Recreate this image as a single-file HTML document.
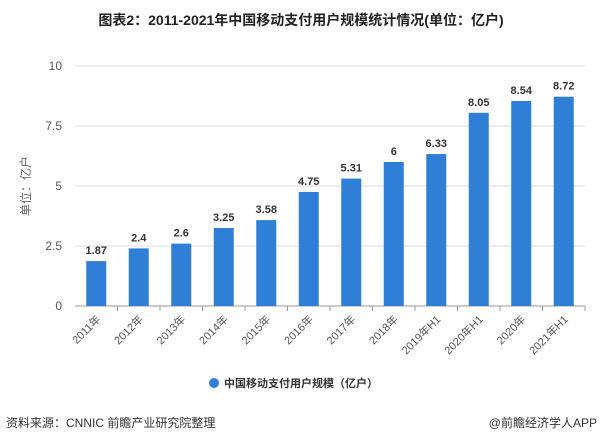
<!DOCTYPE html>
<html><head><meta charset="utf-8"><style>
body{margin:0;background:#fff;font-family:"Liberation Sans","Noto Sans CJK SC",sans-serif;}
#wrap{position:relative;width:602px;height:440px;overflow:hidden;}
</style></head><body>
<div id="wrap">
<svg id="chart" width="602" height="440"></svg>
</div>
<script>
const categories=["2011年","2012年","2013年","2014年","2015年","2016年","2017年","2018年","2019年H1","2020年H1","2020年","2021年H1"];
const values=[1.87,2.4,2.6,3.25,3.58,4.75,5.31,6,6.33,8.05,8.54,8.72];
const valueLabels=["1.87","2.4","2.6","3.25","3.58","4.75","5.31","6","6.33","8.05","8.54","8.72"];
const yTicks=[0,2.5,5,7.5,10];
const yTickLabels=["0","2.5","5","7.5","10"];

const NS="http://www.w3.org/2000/svg";
const svg=document.getElementById('chart');
const L=75,R=585,T=66,B=306,yMax=10;
const band=(R-L)/categories.length;
const y=v=>B-(v/yMax)*(B-T);
const x=i=>L+band*i+band/2;
function mk(tag,attrs,text){const e=document.createElementNS(NS,tag);for(const k in attrs)e.setAttribute(k,attrs[k]);if(text!==undefined)e.textContent=text;svg.appendChild(e);return e;}

let t=mk('text',{x:301,y:25,'text-anchor':'middle','font-size':14,'font-weight':'bold',fill:'#222'},'图表2：2011-2021年中国移动支付用户规模统计情况(单位：亿户)');



yTicks.forEach((v,i)=>{
  const g=mk('line',{x1:L,x2:R,y1:y(v),y2:y(v),stroke:i===0?'#999':'#ddd','stroke-width':1});
  
  
  const tl=mk('text',{x:62,y:y(v)+4,'text-anchor':'end','font-size':12,fill:'#555'},yTickLabels[i]);
  
  
});
let yt=mk('text',{x:0,y:0,'text-anchor':'middle','font-size':12,fill:'#666',transform:'translate(30,186) rotate(-90)'},'单位：亿户');



categories.forEach((c,i)=>{
  const cx=x(i),bw=20;
  const r=mk('rect',{x:cx-bw/2,y:y(values[i]),width:bw,height:B-y(values[i]),fill:'#2f7fd6'});
  
  
  const vl=mk('text',{x:cx,y:y(values[i])-7,'text-anchor':'middle','font-size':11,'font-weight':'bold',fill:'#333'},valueLabels[i]);
  
  
  const tk=mk('line',{x1:cx+band/2,x2:cx+band/2,y1:B,y2:B+5,stroke:'#999'});
  
  
  const xl=mk('text',{x:0,y:0,'text-anchor':'end','font-size':11,fill:'#555',transform:`translate(${cx+5},${B+14}) rotate(-45)`},c);
  
  
});
const lc=mk('circle',{cx:214,cy:383,r:5,fill:'#2f7fd6'});


const lt=mk('text',{x:224,y:387,'font-size':11,'font-weight':'bold',fill:'#333'},'中国移动支付用户规模（亿户）');


const sl=mk('text',{x:6,y:427,'font-size':12,fill:'#333'},'资料来源：CNNIC 前瞻产业研究院整理');


const cr=mk('text',{x:597,y:427,'text-anchor':'end','font-size':12,fill:'#333'},'@前瞻经济学人APP');


</script>
</body></html>
